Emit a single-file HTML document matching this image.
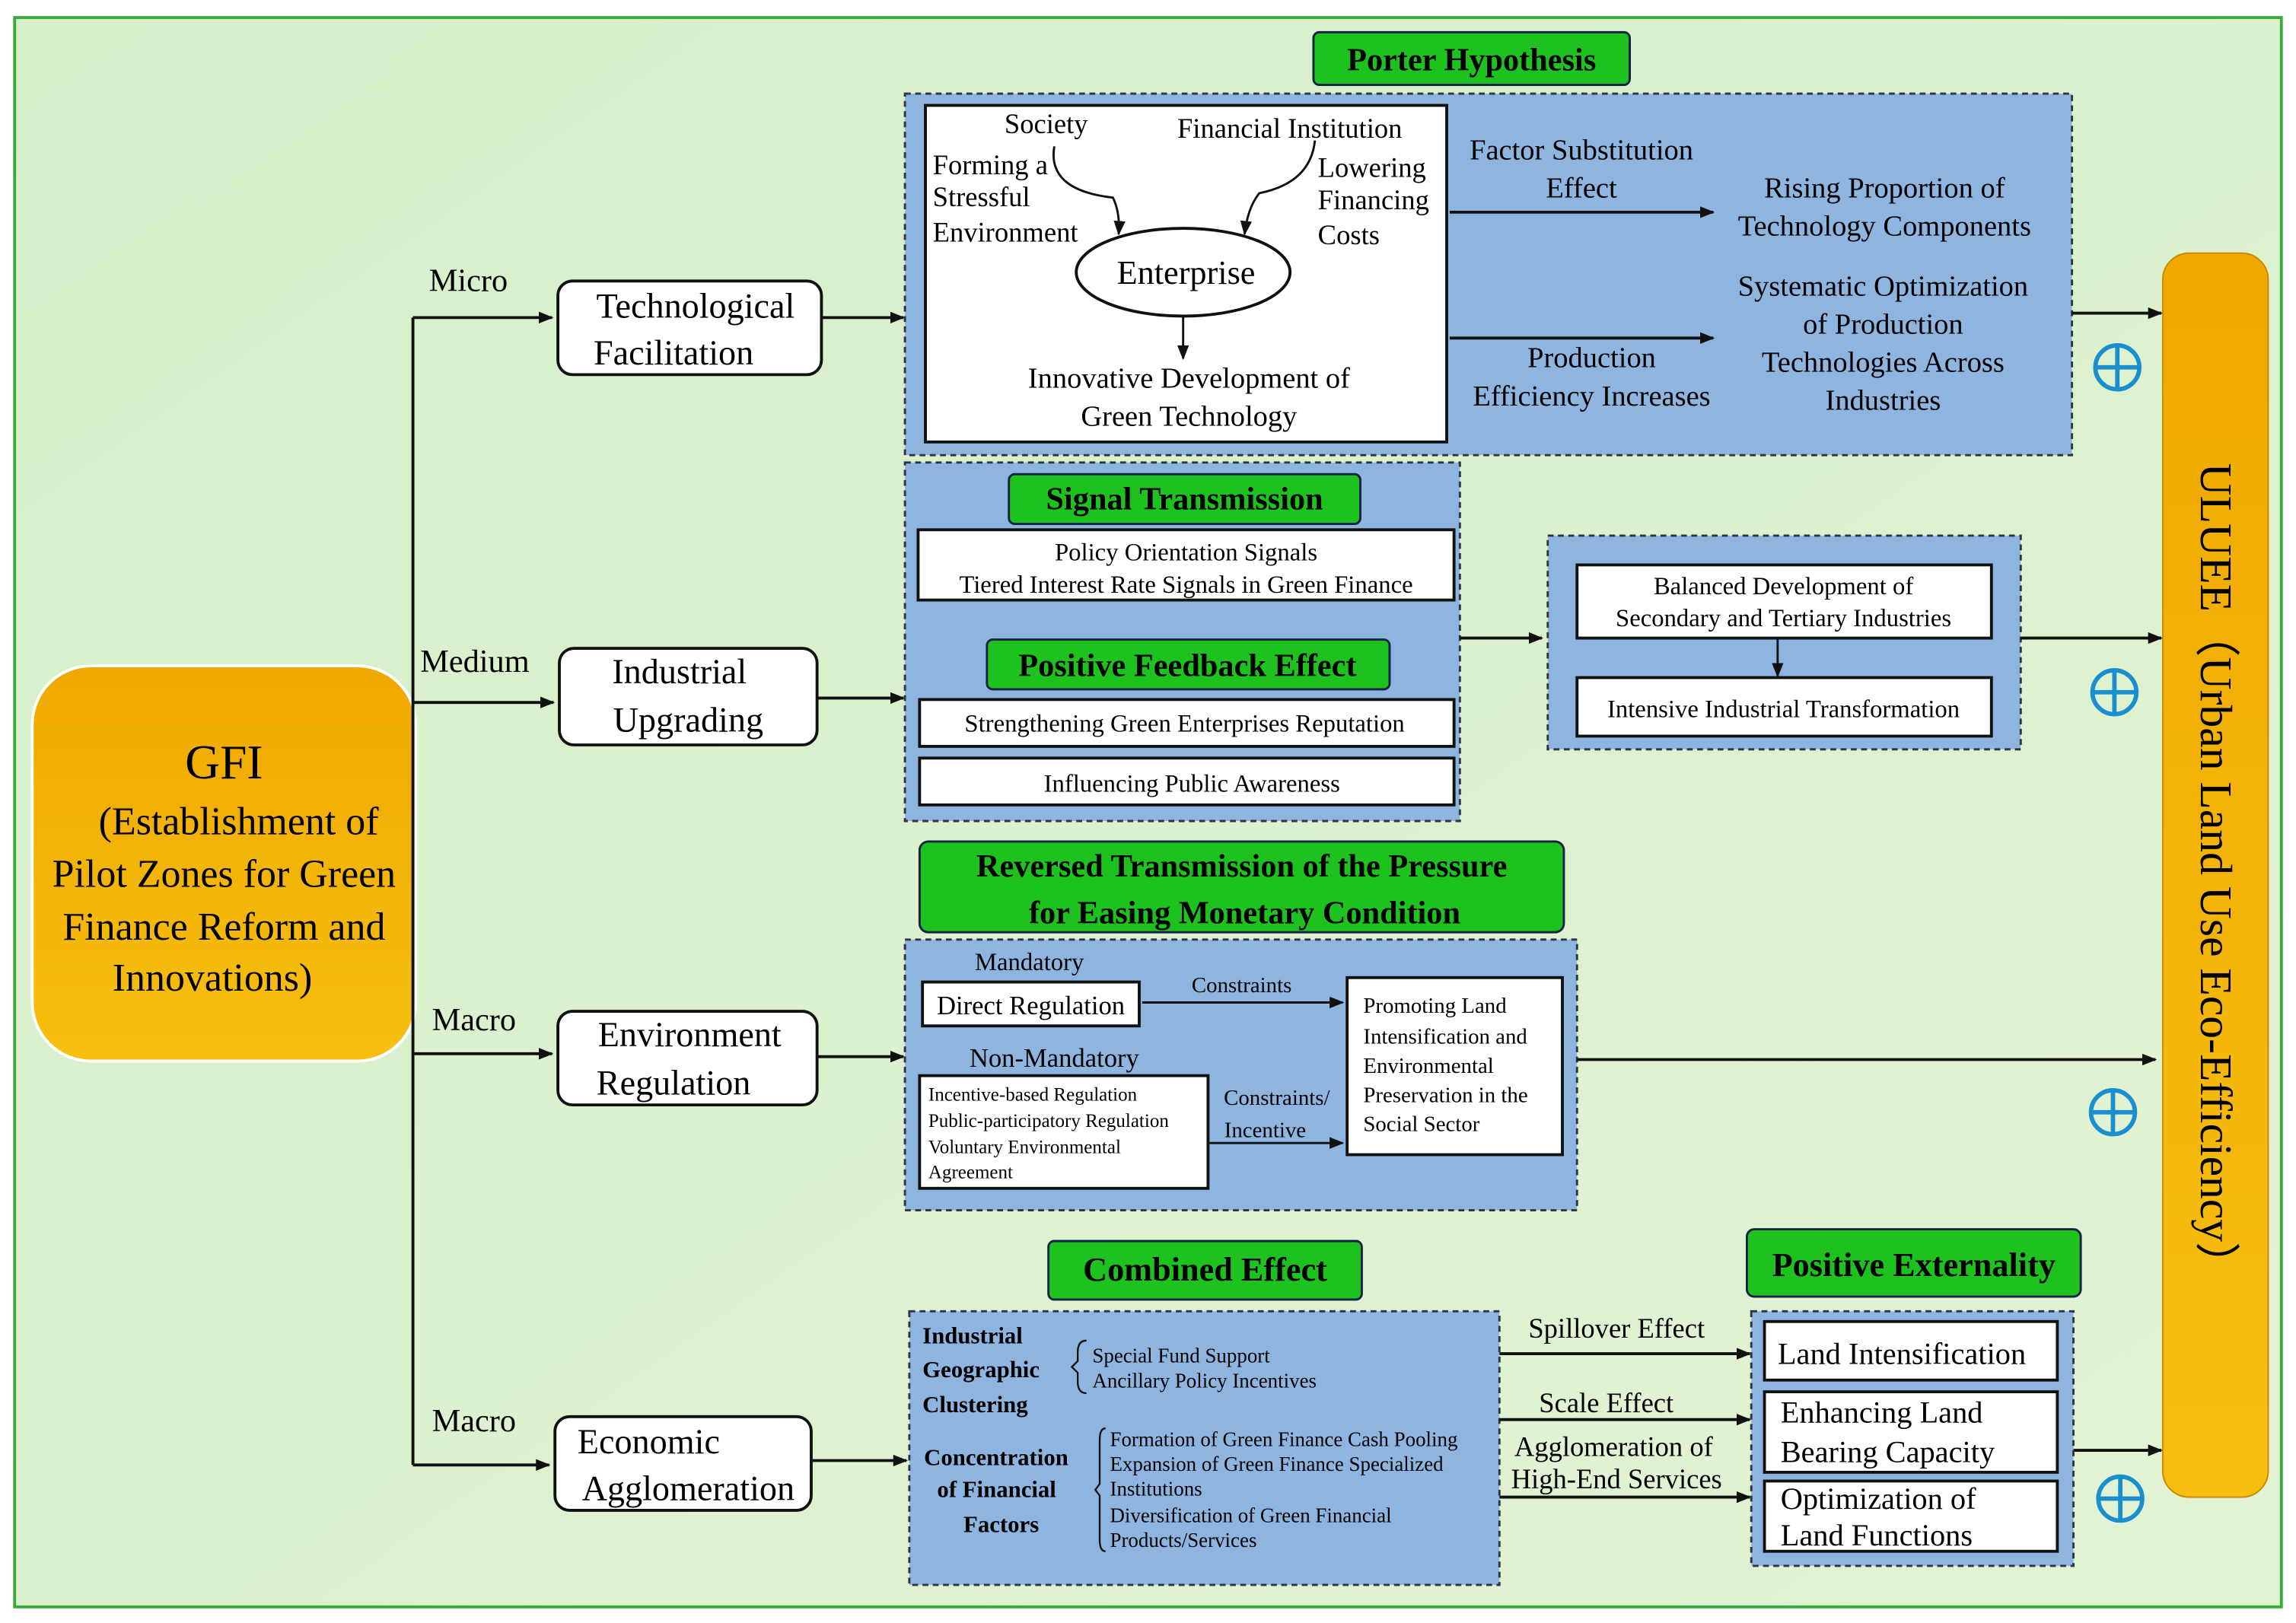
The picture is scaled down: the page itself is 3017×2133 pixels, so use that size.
<!DOCTYPE html>
<html><head><meta charset="utf-8"><style>
html,body{margin:0;padding:0;background:#fff}
svg{display:block}
text{font-family:"Liberation Serif",serif;fill:#000}
.b{font-weight:bold}
</style></head><body>
<svg width="3017" height="2133" viewBox="0 0 1568 1109" preserveAspectRatio="none" xmlns="http://www.w3.org/2000/svg">
<defs>
<linearGradient id="bg" x1="0" y1="0" x2="1" y2="1"><stop offset="0" stop-color="#d6efc9"/><stop offset="1" stop-color="#e2f3d4"/></linearGradient>
<linearGradient id="or" x1="0" y1="0" x2="0" y2="1"><stop offset="0" stop-color="#f0a800"/><stop offset="1" stop-color="#f6bf10"/></linearGradient>
<marker id="a" markerWidth="10" markerHeight="8" refX="9" refY="4" orient="auto" markerUnits="userSpaceOnUse"><path d="M0,0 L10,4 L0,8 z" fill="#111"/></marker>
</defs>
<rect x="0" y="0" width="1568" height="1109" fill="#fff"/>
<rect x="10" y="12" width="1548" height="1086" fill="url(#bg)" stroke="#3aaa3a" stroke-width="2"/>

<!-- GFI -->
<rect x="22" y="455" width="262" height="270" rx="40" fill="url(#or)" stroke="#fff" stroke-width="2"/>
<g text-anchor="middle" font-size="27">
<text x="153" y="532" font-size="33">GFI</text>
<text x="163" y="570">(Establishment of</text>
<text x="153" y="606">Pilot Zones for Green</text>
<text x="153" y="642">Finance Reform and</text>
<text x="145" y="677">Innovations)</text>
</g>
<!-- ULUEE -->
<rect x="1477" y="173" width="72" height="850" rx="18" fill="url(#or)" stroke="#c98a00" stroke-width="1"/>
<text x="1513" y="598" font-size="31" text-anchor="middle" transform="rotate(90 1513 598)" dy="10">ULUEE（Urban Land Use Eco-Efficiency）</text>

<!-- main connector -->
<g stroke="#111" stroke-width="2" fill="none">
<line x1="282" y1="217" x2="282" y2="1001"/>
<line x1="282" y1="217" x2="377" y2="217" marker-end="url(#a)"/>
<line x1="282" y1="480" x2="378" y2="480" marker-end="url(#a)"/>
<line x1="282" y1="720" x2="377" y2="720" marker-end="url(#a)"/>
<line x1="282" y1="1001" x2="375" y2="1001" marker-end="url(#a)"/>
<line x1="561" y1="217" x2="617" y2="217" marker-end="url(#a)"/>
<line x1="558" y1="477" x2="617" y2="477" marker-end="url(#a)"/>
<line x1="558" y1="722" x2="617" y2="722" marker-end="url(#a)"/>
<line x1="554" y1="998" x2="619" y2="998" marker-end="url(#a)"/>
</g>
<g font-size="22">
<text x="293" y="199">Micro</text>
<text x="287" y="459">Medium</text>
<text x="295" y="704">Macro</text>
<text x="295" y="978">Macro</text>
</g>
<!-- left boxes -->
<g fill="#fff" stroke="#111" stroke-width="2">
<rect x="381" y="192" width="180" height="64" rx="10"/>
<rect x="382" y="443" width="176" height="66" rx="10"/>
<rect x="381" y="691" width="177" height="64" rx="10"/>
<rect x="379" y="968" width="175" height="64" rx="10"/>
</g>
<g font-size="24" text-anchor="middle">
<text x="475" y="217">Technological</text><text x="460" y="249">Facilitation</text>
<text x="464" y="467">Industrial</text><text x="470" y="500">Upgrading</text>
<text x="471" y="715">Environment</text><text x="460" y="748">Regulation</text>
<text x="443" y="993">Economic</text><text x="470" y="1025">Agglomeration</text>
</g>

<!-- Panel 1 -->
<rect x="618" y="64" width="797" height="247" fill="#8db5df" stroke="#334" stroke-width="1.5" stroke-dasharray="4,3"/>
<rect x="632" y="72" width="356" height="230" fill="#fff" stroke="#111" stroke-width="2"/>
<rect x="897" y="22" width="216" height="36" rx="4" fill="#1ec21e" stroke="#124" stroke-width="1.5"/>
<text x="1005" y="48" font-size="22" class="b" text-anchor="middle">Porter Hypothesis</text>
<g font-size="19">
<text x="686" y="91">Society</text>
<text x="804" y="94">Financial Institution</text>
<text x="637" y="119">Forming a</text><text x="637" y="141">Stressful</text><text x="637" y="165">Environment</text>
<text x="900" y="121">Lowering</text><text x="900" y="143">Financing</text><text x="900" y="167">Costs</text>
</g>
<ellipse cx="808" cy="186" rx="73" ry="30" fill="#fff" stroke="#111" stroke-width="2"/>
<text x="810" y="194" font-size="23" text-anchor="middle">Enterprise</text>
<g stroke="#111" stroke-width="1.5" fill="none">
<path d="M720,100 Q715,130 760,135 Q765,145 764,160" marker-end="url(#a)"/>
<path d="M898,96 Q895,125 860,132 Q852,142 850,160" marker-end="url(#a)"/>
<line x1="808" y1="216" x2="808" y2="245" marker-end="url(#a)"/>
<line x1="990" y1="145" x2="1170" y2="145" marker-end="url(#a)" stroke-width="2"/>
<line x1="990" y1="231" x2="1170" y2="231" marker-end="url(#a)" stroke-width="2"/>
<line x1="1415" y1="214" x2="1476" y2="214" marker-end="url(#a)" stroke-width="2"/>
</g>
<g font-size="20" text-anchor="middle">
<text x="812" y="265">Innovative Development of</text>
<text x="812" y="291">Green Technology</text>
<text x="1080" y="109">Factor Substitution</text><text x="1080" y="135">Effect</text>
<text x="1287" y="135">Rising Proportion of</text><text x="1287" y="161">Technology Components</text>
<text x="1286" y="202">Systematic Optimization</text><text x="1286" y="228">of Production</text>
<text x="1286" y="254">Technologies Across</text><text x="1286" y="280">Industries</text>
<text x="1087" y="251">Production</text><text x="1087" y="277">Efficiency Increases</text>
</g>

<!-- Panel 2 -->
<rect x="618" y="316" width="379" height="245" fill="#8db5df" stroke="#334" stroke-width="1.5" stroke-dasharray="4,3"/>
<rect x="689" y="324" width="240" height="34" rx="4" fill="#1ec21e" stroke="#124" stroke-width="1.5"/>
<text x="809" y="348" font-size="22" class="b" text-anchor="middle">Signal Transmission</text>
<rect x="627" y="362" width="366" height="48" fill="#fff" stroke="#111" stroke-width="2"/>
<rect x="674" y="437" width="275" height="34" rx="4" fill="#1ec21e" stroke="#124" stroke-width="1.5"/>
<text x="811" y="462" font-size="22" class="b" text-anchor="middle">Positive Feedback Effect</text>
<rect x="628" y="478" width="365" height="32" fill="#fff" stroke="#111" stroke-width="2"/>
<rect x="628" y="518" width="365" height="32" fill="#fff" stroke="#111" stroke-width="2"/>
<g font-size="17" text-anchor="middle">
<text x="810" y="383">Policy Orientation Signals</text>
<text x="810" y="405">Tiered Interest Rate  Signals in Green Finance</text>
<text x="809" y="500">Strengthening Green Enterprises Reputation</text>
<text x="814" y="541">Influencing Public Awareness</text>
</g>
<line x1="997" y1="436" x2="1053" y2="436" stroke="#111" stroke-width="2" marker-end="url(#a)"/>
<!-- Panel 3 -->
<rect x="1057" y="366" width="323" height="146" fill="#8db5df" stroke="#334" stroke-width="1.5" stroke-dasharray="4,3"/>
<rect x="1077" y="386" width="283" height="50" fill="#fff" stroke="#111" stroke-width="2"/>
<rect x="1077" y="463" width="283" height="40" fill="#fff" stroke="#111" stroke-width="2"/>
<g font-size="17" text-anchor="middle">
<text x="1218" y="406">Balanced Development of</text>
<text x="1218" y="428">Secondary and Tertiary Industries</text>
<text x="1218" y="490">Intensive Industrial Transformation</text>
</g>
<line x1="1214" y1="436" x2="1214" y2="462" stroke="#111" stroke-width="1.5" marker-end="url(#a)"/>
<line x1="1380" y1="436" x2="1476" y2="436" stroke="#111" stroke-width="2" marker-end="url(#a)"/>

<!-- Panel 4 -->
<rect x="628" y="575" width="440" height="62" rx="6" fill="#1ec21e" stroke="#124" stroke-width="1.5"/>
<text x="848" y="599" font-size="22" class="b" text-anchor="middle">Reversed Transmission of the Pressure</text>
<text x="850" y="631" font-size="22" class="b" text-anchor="middle">for Easing Monetary Condition</text>
<rect x="618" y="642" width="459" height="185" fill="#8db5df" stroke="#334" stroke-width="1.5" stroke-dasharray="4,3"/>
<text x="703" y="663" font-size="17" text-anchor="middle">Mandatory</text>
<rect x="630" y="671" width="148" height="30" fill="#fff" stroke="#111" stroke-width="2"/>
<text x="704" y="693" font-size="18" text-anchor="middle">Direct Regulation</text>
<text x="848" y="678" font-size="15" text-anchor="middle">Constraints</text>
<text x="720" y="729" font-size="18" text-anchor="middle">Non-Mandatory</text>
<rect x="628" y="735" width="197" height="77" fill="#fff" stroke="#111" stroke-width="2"/>
<g font-size="13">
<text x="634" y="752">Incentive-based Regulation</text>
<text x="634" y="770">Public-participatory Regulation</text>
<text x="634" y="788">Voluntary Environmental</text>
<text x="634" y="805">Agreement</text>
</g>
<text x="872" y="755" font-size="15" text-anchor="middle">Constraints/</text>
<text x="864" y="777" font-size="15" text-anchor="middle">Incentive</text>
<rect x="920" y="668" width="147" height="121" fill="#fff" stroke="#111" stroke-width="2"/>
<g font-size="15">
<text x="931" y="692">Promoting Land</text>
<text x="931" y="713">Intensification and</text>
<text x="931" y="733">Environmental</text>
<text x="931" y="753">Preservation in the</text>
<text x="931" y="773">Social Sector</text>
</g>
<g stroke="#111" stroke-width="1.5">
<line x1="780" y1="685" x2="917" y2="685" marker-end="url(#a)"/>
<line x1="826" y1="781" x2="917" y2="781" marker-end="url(#a)"/>
<line x1="1077" y1="724" x2="1472" y2="724" marker-end="url(#a)" stroke-width="2"/>
</g>

<!-- Panel 5 -->
<rect x="716" y="848" width="214" height="40" rx="4" fill="#1ec21e" stroke="#124" stroke-width="1.5"/>
<text x="823" y="875" font-size="23" class="b" text-anchor="middle">Combined Effect</text>
<rect x="621" y="896" width="403" height="187" fill="#8db5df" stroke="#334" stroke-width="1.5" stroke-dasharray="4,3"/>
<g font-size="16" class="b">
<text x="630" y="918">Industrial</text>
<text x="630" y="941">Geographic</text>
<text x="630" y="965">Clustering</text>
<text x="631" y="1001">Concentration</text>
<text x="640" y="1023">of Financial</text>
<text x="658" y="1047">Factors</text>
</g>
<g stroke="#111" stroke-width="1.2" fill="none">
<path d="M742,916 Q736,916 736,924 L736,930 L732,934 L736,938 L736,944 Q736,952 742,952"/>
<path d="M755,976 Q751,976 751,984 L751,1014 L748,1018 L751,1022 L751,1052 Q751,1060 755,1060"/>
</g>
<g font-size="14">
<text x="746" y="931">Special Fund Support</text>
<text x="746" y="948">Ancillary Policy Incentives</text>
<text x="758" y="988">Formation of Green Finance Cash Pooling</text>
<text x="758" y="1005">Expansion of Green Finance Specialized</text>
<text x="758" y="1022">Institutions</text>
<text x="758" y="1040">Diversification of Green Financial</text>
<text x="758" y="1057">Products/Services</text>
</g>
<g stroke="#111" stroke-width="2">
<line x1="1024" y1="925" x2="1195" y2="925" marker-end="url(#a)"/>
<line x1="1024" y1="970" x2="1195" y2="970" marker-end="url(#a)"/>
<line x1="1024" y1="1023" x2="1195" y2="1023" marker-end="url(#a)"/>
<line x1="1416" y1="991" x2="1476" y2="991" marker-end="url(#a)"/>
</g>
<g font-size="19" text-anchor="middle">
<text x="1104" y="914">Spillover Effect</text>
<text x="1097" y="965">Scale Effect</text>
<text x="1102" y="995">Agglomeration of</text>
<text x="1104" y="1017">High-End Services</text>
</g>
<!-- Panel 6 -->
<rect x="1193" y="840" width="228" height="46" rx="5" fill="#1ec21e" stroke="#124" stroke-width="1.5"/>
<text x="1307" y="872" font-size="23" class="b" text-anchor="middle">Positive Externality</text>
<rect x="1196" y="896" width="220" height="174" fill="#8db5df" stroke="#334" stroke-width="1.5" stroke-dasharray="4,3"/>
<g fill="#fff" stroke="#111" stroke-width="2">
<rect x="1205" y="903" width="200" height="40"/>
<rect x="1205" y="951" width="200" height="55"/>
<rect x="1205" y="1012" width="200" height="48"/>
</g>
<g font-size="21">
<text x="1214" y="932">Land Intensification</text>
<text x="1216" y="972">Enhancing Land</text>
<text x="1216" y="999">Bearing Capacity</text>
<text x="1216" y="1031">Optimization of</text>
<text x="1216" y="1056">Land Functions</text>
</g>

<!-- plus circles -->
<g stroke="#1a8fd0" stroke-width="3" fill="none">
<circle cx="1446" cy="251" r="15"/><path d="M1431,251 H1461 M1446,236 V266"/>
<circle cx="1444" cy="473" r="15"/><path d="M1429,473 H1459 M1444,458 V488"/>
<circle cx="1443" cy="760" r="15"/><path d="M1428,760 H1458 M1443,745 V775"/>
<circle cx="1448" cy="1024" r="15"/><path d="M1433,1024 H1463 M1448,1009 V1039"/>
</g>
</svg>
</body></html>
